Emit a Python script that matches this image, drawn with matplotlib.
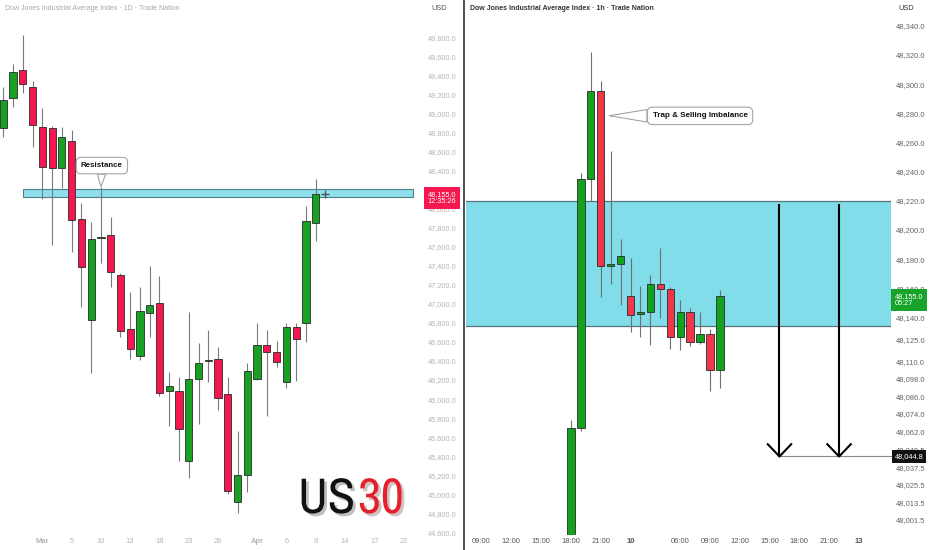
import matplotlib
matplotlib.use('Agg')
import matplotlib.pyplot as plt
from matplotlib.patches import Rectangle
from matplotlib import font_manager
import matplotlib.patheffects as pe

plt.rcParams['font.family'] = ['Liberation Sans', 'DejaVu Sans']

# --- daily chart (left) ---
d_open  = [48850, 49159, 49456, 49275, 48861, 48847, 48424, 48711, 47891, 46830,
           47692, 47723, 47303, 46736, 46455, 46907, 47006, 46085, 46088, 45346,
           46214, 46400, 46418, 46050, 44922, 45199, 46214, 46565, 46494, 46176,
           46754, 46796, 47846]
d_high  = [49281, 49520, 49824, 49341, 49054, 48868, 48855, 48826, 48063, 47863,
           48230, 47916, 47327, 47121, 47174, 47401, 47293, 46288, 46229, 46911,
           46592, 46725, 46544, 46229, 45668, 46376, 46796, 46725, 46613, 46796,
           46796, 48028, 48312]
d_low   = [48750, 49071, 49218, 48651, 48102, 47618, 48214, 47548, 46970, 46277,
           47426, 47180, 46655, 46421, 46410, 46655, 46035, 45720, 45353, 45168,
           45738, 46183, 45885, 44999, 44806, 45027, 46205, 45818, 46340, 46113,
           46190, 46603, 47664]
d_close = [49141, 49435, 49306, 48876, 48434, 48424, 48750, 47878, 47390, 47678,
           47706, 47338, 46718, 46529, 46925, 46988, 46060, 46137, 45682, 46214,
           46382, 46412, 46014, 45034, 45199, 46295, 46565, 46491, 46386, 46754,
           46631, 47870, 48155]
d_tick_pos = [4, 7, 10, 13, 16, 19, 22, 26, 29, 32, 35, 38, 41]
d_tick_lab = ['Mar', '5', '10', '13', '18', '23', '26', 'Apr', '6', '9', '14', '17', '22']
d_yticks = list(range(44600, 49801, 200))
d_zone = (48126, 48210)
d_last = 48155.0

# --- hourly chart (right) ---
h_open  = [47985, 48064, 48235, 48295.5, 48175.5, 48176.5, 48155, 48142.5,
           48143.5, 48162.7, 48159.5, 48127, 48143.6, 48123.5, 48129, 48104]
h_high  = [48070, 48239, 48322, 48302, 48254, 48194, 48180.5, 48161.5,
           48169, 48187.4, 48161, 48152, 48146.3, 48144, 48132, 48159]
h_low   = [47980, 48062, 48220, 48154, 48163, 48148.5, 48130, 48127,
           48121, 48139.4, 48118.4, 48117.7, 48120.5, 48122, 48090, 48091.5]
h_close = [48064, 48235, 48295.5, 48175, 48177, 48182, 48142, 48143.5,
           48163, 48159.5, 48126.4, 48143.6, 48123, 48129, 48104, 48155]
h_tick_pos = [-9, -6, -3, 0, 3, 6, 11, 14, 17, 20, 23, 26, 29]
h_tick_lab = ['09:00', '12:00', '15:00', '18:00', '21:00', '10', '06:00', '09:00',
              '12:00', '15:00', '18:00', '21:00', '13']
h_yticks = [48340, 48320, 48300, 48280, 48260, 48240, 48220, 48200, 48180, 48160,
            48140, 48125, 48110, 48098, 48086, 48074, 48062, 48049.5, 48037.5,
            48025.5, 48013.5, 48001.5]
h_zone = (48134, 48220)
h_last = 48155.0
arrow_x = [21, 27]
arrow_top = 48217
target = 48044.8


def candles(ax, o, h, l, c, up, down, wick):
    for i in range(len(o)):
        col = up if c[i] >= o[i] else down
        ax.vlines(i, l[i], h[i], color=wick, lw=0.8, zorder=3)
        ax.bar(i, abs(c[i] - o[i]), bottom=min(o[i], c[i]), width=0.74, color=col,
               edgecolor='#2a2a2a', linewidth=0.6, zorder=4)


# a narrow bold face for the logo if one is installed
narrow = sorted({f.name for f in font_manager.fontManager.ttflist
                 if f.stretch in ('condensed', 'semi-condensed', 'extra-condensed',
                                  'ultra-condensed')
                 or 'Narrow' in f.name or 'Condensed' in f.name})
logo_family = narrow + ['Liberation Sans', 'DejaVu Sans']

fig = plt.figure(figsize=(9.32, 5.5), dpi=100)
fig.patch.set_facecolor('white')
ax1 = fig.add_axes([0, 15 / 550, 424 / 932, 535 / 550])
ax2 = fig.add_axes([466 / 932, 15 / 550, 425 / 932, 535 / 550])

for ax in (ax1, ax2):
    for s in ax.spines.values():
        s.set_visible(False)
    ax.yaxis.tick_right()

# left panel
candles(ax1, d_open, d_high, d_low, d_close, '#17a022', '#f5174f', '#7a7a7a')
ax1.add_patch(Rectangle((2.0, d_zone[0]), 40.0, d_zone[1] - d_zone[0],
                        fc='#8ee0ec', ec='#4f7f87', lw=0.8, zorder=2))
ax1.plot([33], [d_last], marker='+', ms=6, color='#555555', zorder=5)
ax1.set_xlim(-0.34, 43.1)
ax1.set_ylim(44572, 50192)
ax1.set_yticks(d_yticks)
ax1.set_yticklabels(['{:,.1f}'.format(v) for v in d_yticks])
ax1.tick_params(axis='y', length=0, pad=2.9, labelsize=5.3, labelcolor='#b5b5b5')
ax1.set_xticks(d_tick_pos)
ax1.set_xticklabels(d_tick_lab)
ax1.tick_params(axis='x', length=0, pad=2.5, labelsize=5.5, labelcolor='#b5b5b5')
for t in ax1.get_xticklabels():
    if t.get_text() in ('Mar', 'Apr'):
        t.set_fontweight('bold')

ax1.text(1.0087, d_last - 43, '48,155.0\n12:35:26', transform=ax1.get_yaxis_transform(),
         ha='left', va='center', fontsize=5.3, color='white', linespacing=1.05,
         bbox=dict(boxstyle='square,pad=0.5', fc='#f5174f', ec='none'), zorder=10, clip_on=False)

ax1.annotate('Resistance', xy=(10.0, 48231), xytext=(10.1, 48453),
             ha='center', va='center', fontsize=5.7, fontweight='bold', color='#111111',
             bbox=dict(boxstyle='round,pad=0.6', fc='white', ec='#9a9a9a', lw=0.7),
             arrowprops=dict(arrowstyle='wedge,tail_width=0.6', fc='white', ec='#9a9a9a',
                             lw=0.7, shrinkA=0, shrinkB=0, mutation_scale=10), zorder=8)

shadow = [pe.SimplePatchShadow(offset=(2, -2), alpha=0.25), pe.Normal()]
us = ax1.text(355 / 424, (535 - 513) / 535, 'US', transform=ax1.transAxes, ha='right',
              va='baseline', fontsize=36, fontweight='bold', color='#111111',
              family=logo_family, path_effects=shadow)
n30 = ax1.text(358 / 424, (535 - 513) / 535, '30', transform=ax1.transAxes, ha='left',
               va='baseline', fontsize=36, fontweight='bold', color='#e3202b',
               family=logo_family, path_effects=shadow)
# shrink the logo if the face is too wide for the ~95 px slot
fig.canvas.draw()
r = fig.canvas.get_renderer()
w = us.get_window_extent(r).width + n30.get_window_extent(r).width
if w > 105:
    us.set_fontsize(36 * 105 / w)
    n30.set_fontsize(36 * 105 / w)

# right panel
candles(ax2, h_open, h_high, h_low, h_close, '#14a11e', '#f2364a', '#6f6f6f')
ax2.axhspan(h_zone[0], h_zone[1], fc='#80dde9', ec='none', zorder=1)
ax2.axhline(h_zone[0], color='#56767c', lw=0.9, zorder=2)
ax2.axhline(h_zone[1], color='#56767c', lw=0.9, zorder=2)
ax2.set_xlim(-10.57, 32.23)
ax2.set_ylim(47991, 48357.6)
ax2.set_yticks(h_yticks)
ax2.set_yticklabels(['{:,.1f}'.format(v) for v in h_yticks])
ax2.tick_params(axis='y', length=0, pad=3.6, labelsize=5.5, labelcolor='#666666')
ax2.set_xticks(h_tick_pos)
ax2.set_xticklabels(h_tick_lab)
ax2.tick_params(axis='x', length=0, pad=2.5, labelsize=5.5, labelcolor='#555555')
for t in ax2.get_xticklabels():
    if t.get_text() in ('10', '13'):
        t.set_fontweight('bold')

# projected move arrows
ax2.plot([arrow_x[0], 32.23], [target, target], color='#8a8a8a', lw=0.8, zorder=5,
         clip_on=False)
for xa in arrow_x:
    ax2.plot([xa, xa], [arrow_top, target], color='black', lw=1.5, zorder=6)
    ax2.plot([xa - 1.18, xa, xa + 1.18], [target + 8.4, target, target + 8.4],
             color='black', lw=1.5, zorder=6)

ax2.text(1.0087, h_last - 3, '48,155.0\n05:27', transform=ax2.get_yaxis_transform(),
         ha='left', va='center', fontsize=5.3, color='white', linespacing=1.05,
         bbox=dict(boxstyle='square,pad=0.5', fc='#18a42b', ec='none'), zorder=10, clip_on=False)
ax2.text(1.0087, target, '48,044.8', transform=ax2.get_yaxis_transform(),
         ha='left', va='center', fontsize=5.3, color='white',
         bbox=dict(boxstyle='square,pad=0.35', fc='#111111', ec='none'), zorder=10, clip_on=False)

ax2.annotate('Trap & Selling Imbalance', xy=(3.86, 48278.3), xytext=(13.0, 48278.2),
             ha='center', va='center', fontsize=5.8, fontweight='bold', color='#111111',
             bbox=dict(boxstyle='round,pad=0.65', fc='white', ec='#9a9a9a', lw=0.7),
             arrowprops=dict(arrowstyle='wedge,tail_width=0.9', fc='white', ec='#9a9a9a',
                             lw=0.7, shrinkA=0, shrinkB=0, mutation_scale=10), zorder=8)

# headers
fig.text(5 / 932, 1 - 9 / 550, 'Dow Jones Industrial Average Index · 1D · Trade Nation',
         fontsize=5, color='#a8a8a8', va='center', ha='left')
fig.text(470 / 932, 1 - 9 / 550, 'Dow Jones Industrial Average Index · 1h · Trade Nation',
         fontsize=5, color='#333333', va='center', ha='left', fontweight='bold')
fig.text(431 / 932, 1 - 9 / 550, 'USD', fontsize=5.3, color='#555555', va='center', ha='left')
fig.text(898 / 932, 1 - 9 / 550, 'USD', fontsize=5.3, color='#333333', va='center', ha='left')

# divider between the two charts
fig.add_artist(plt.Line2D([464 / 932, 464 / 932], [0, 1], color='#333333', lw=1.2))

fig.savefig('out.png', dpi=100)
